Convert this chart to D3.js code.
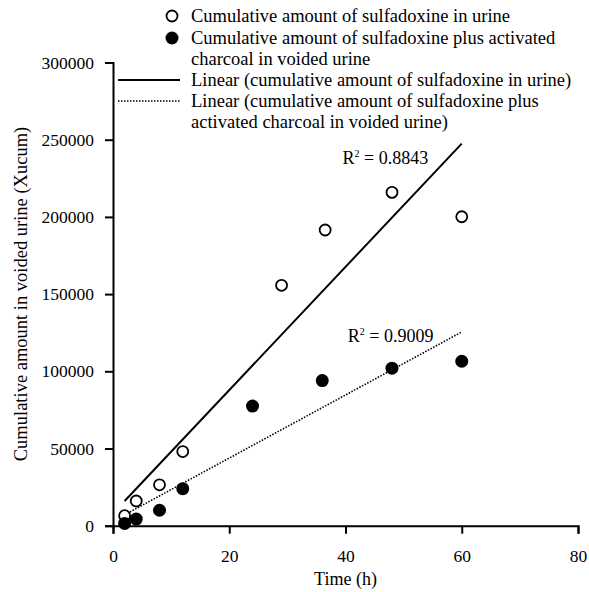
<!DOCTYPE html>
<html>
<head>
<meta charset="utf-8">
<script src="https://cdn.jsdelivr.net/npm/d3@7"></script>
<style>
  body { margin: 0; background: #fff; }
</style>
</head>
<body>
<div id="chart"></div>
<script>
var chart_width  = 589;
var chart_height = 592;
var serif = "'Liberation Serif', 'Times New Roman', serif";

// Data
var time_urine    = [2, 4, 8, 12, 29, 36.5, 48, 60];
var amount_urine  = [6500, 16000, 26500, 48000, 155700, 191500, 215900, 200100];
var time_charcoal   = [2, 4, 8, 12, 24, 36, 48, 60];
var amount_charcoal = [1500, 4300, 10000, 24000, 77500, 94000, 102000, 106500];
var x_ticks = [0, 20, 40, 60, 80];
var y_ticks = [0, 50000, 100000, 150000, 200000, 250000, 300000];
var legend_labels = [
  ["Cumulative amount of sulfadoxine in urine"],
  ["Cumulative amount of sulfadoxine plus activated", "charcoal in voided urine"],
  ["Linear (cumulative amount of sulfadoxine in urine)"],
  ["Linear (cumulative amount of sulfadoxine plus", "activated charcoal in voided urine)"]
];
var r2_labels = ["0.8843", "0.9009"];

var x = d3.scaleLinear().domain([0, 80]).range([113, 578]);
var y = d3.scaleLinear().domain([0, 300000]).range([525.7, 62.5]);

var svg = d3.select("#chart")
  .append("svg")
  .attr("width", chart_width)
  .attr("height", chart_height)
  .attr("font-family", serif);

// least squares fit
function fit(xs, ys) {
  var mx = d3.mean(xs), my = d3.mean(ys);
  var sxy = d3.sum(xs, function(v, i){ return (v - mx) * (ys[i] - my); });
  var sxx = d3.sum(xs, function(v){ return (v - mx) * (v - mx); });
  var b = sxy / sxx;
  return function(t){ return my + b * (t - mx); };
}

// axes
var xAxis = svg.append("g")
  .attr("transform", "translate(0," + y(0) + ")")
  .call(d3.axisBottom(x).tickValues(x_ticks).tickSize(8).tickPadding(16).tickFormat(d3.format("d")));
var yAxis = svg.append("g")
  .attr("transform", "translate(" + x(0) + ",0)")
  .call(d3.axisLeft(y).tickValues(y_ticks).tickSize(8).tickPadding(11).tickFormat(d3.format("d")));

[xAxis, yAxis].forEach(function(a){
  a.attr("font-family", serif).attr("font-size", 17.5);
  a.select(".domain").attr("stroke", "#000").attr("stroke-width", 2);
  a.selectAll(".tick line").attr("stroke", "#000").attr("stroke-width", 2);
  a.selectAll(".tick text").attr("fill", "#000");
});

svg.append("text")
  .attr("x", x(40)).attr("y", 585)
  .attr("text-anchor", "middle")
  .attr("font-size", 18)
  .text("Time (h)");

svg.append("text")
  .attr("transform", "translate(27," + 294 + ") rotate(-90)")
  .attr("text-anchor", "middle")
  .attr("font-size", 18.5)
  .text("Cumulative amount in voided urine (Xucum)");

// trend lines
var fitUrine = fit(time_urine, amount_urine);
var fitChar  = fit(time_charcoal, amount_charcoal);

svg.append("line")
  .attr("x1", x(2)).attr("y1", y(fitUrine(2)))
  .attr("x2", x(60)).attr("y2", y(fitUrine(60)))
  .attr("stroke", "#000").attr("stroke-width", 2);

svg.append("line")
  .attr("x1", x(2)).attr("y1", y(fitChar(2)))
  .attr("x2", x(60)).attr("y2", y(fitChar(60)))
  .attr("stroke", "#000").attr("stroke-width", 1.6)
  .attr("stroke-dasharray", "1.5,1.5");

// points
svg.selectAll("circle.urine")
  .data(time_urine)
  .enter().append("circle")
  .attr("class", "urine")
  .attr("cx", function(d){ return x(d); })
  .attr("cy", function(d, i){ return y(amount_urine[i]); })
  .attr("r", 5.5)
  .attr("fill", "#fff")
  .attr("stroke", "#000")
  .attr("stroke-width", 1.8);

svg.selectAll("circle.charcoal")
  .data(time_charcoal)
  .enter().append("circle")
  .attr("class", "charcoal")
  .attr("cx", function(d){ return x(d); })
  .attr("cy", function(d, i){ return y(amount_charcoal[i]); })
  .attr("r", 6.5)
  .attr("fill", "#000");

// R squared labels
function r2(xp, yp, val) {
  var t = svg.append("text")
    .attr("x", x(xp)).attr("y", y(yp))
    .attr("font-size", 18);
  t.append("tspan").text("R");
  t.append("tspan").attr("dy", -7).attr("font-size", 10).text("2");
  t.append("tspan").attr("dy", 7).text(" = " + val);
}
r2(39.5, 234300, r2_labels[0]);
r2(40.4, 119000, r2_labels[1]);

// legend
var leg = svg.append("g");
var rowY = [16, 38, 59, 80, 101, 122];
var row = 0;
legend_labels.forEach(function(lines, k){
  var cy = rowY[row];
  if (k === 0) {
    leg.append("circle").attr("cx", 172).attr("cy", cy).attr("r", 5.5)
      .attr("fill", "#fff").attr("stroke", "#000").attr("stroke-width", 1.8);
  } else if (k === 1) {
    leg.append("circle").attr("cx", 172).attr("cy", cy).attr("r", 6.5).attr("fill", "#000");
  } else if (k === 2) {
    leg.append("line").attr("x1", 118).attr("x2", 180).attr("y1", cy).attr("y2", cy)
      .attr("stroke", "#000").attr("stroke-width", 2);
  } else {
    leg.append("line").attr("x1", 118).attr("x2", 180).attr("y1", cy).attr("y2", cy)
      .attr("stroke", "#000").attr("stroke-width", 1.3).attr("stroke-dasharray", "1.5,1.5");
  }
  lines.forEach(function(s){
    leg.append("text")
      .attr("x", 191).attr("y", rowY[row]).attr("dy", "0.35em")
      .attr("font-size", 18.5)
      .text(s);
    row++;
  });
});
</script>
</body>
</html>
